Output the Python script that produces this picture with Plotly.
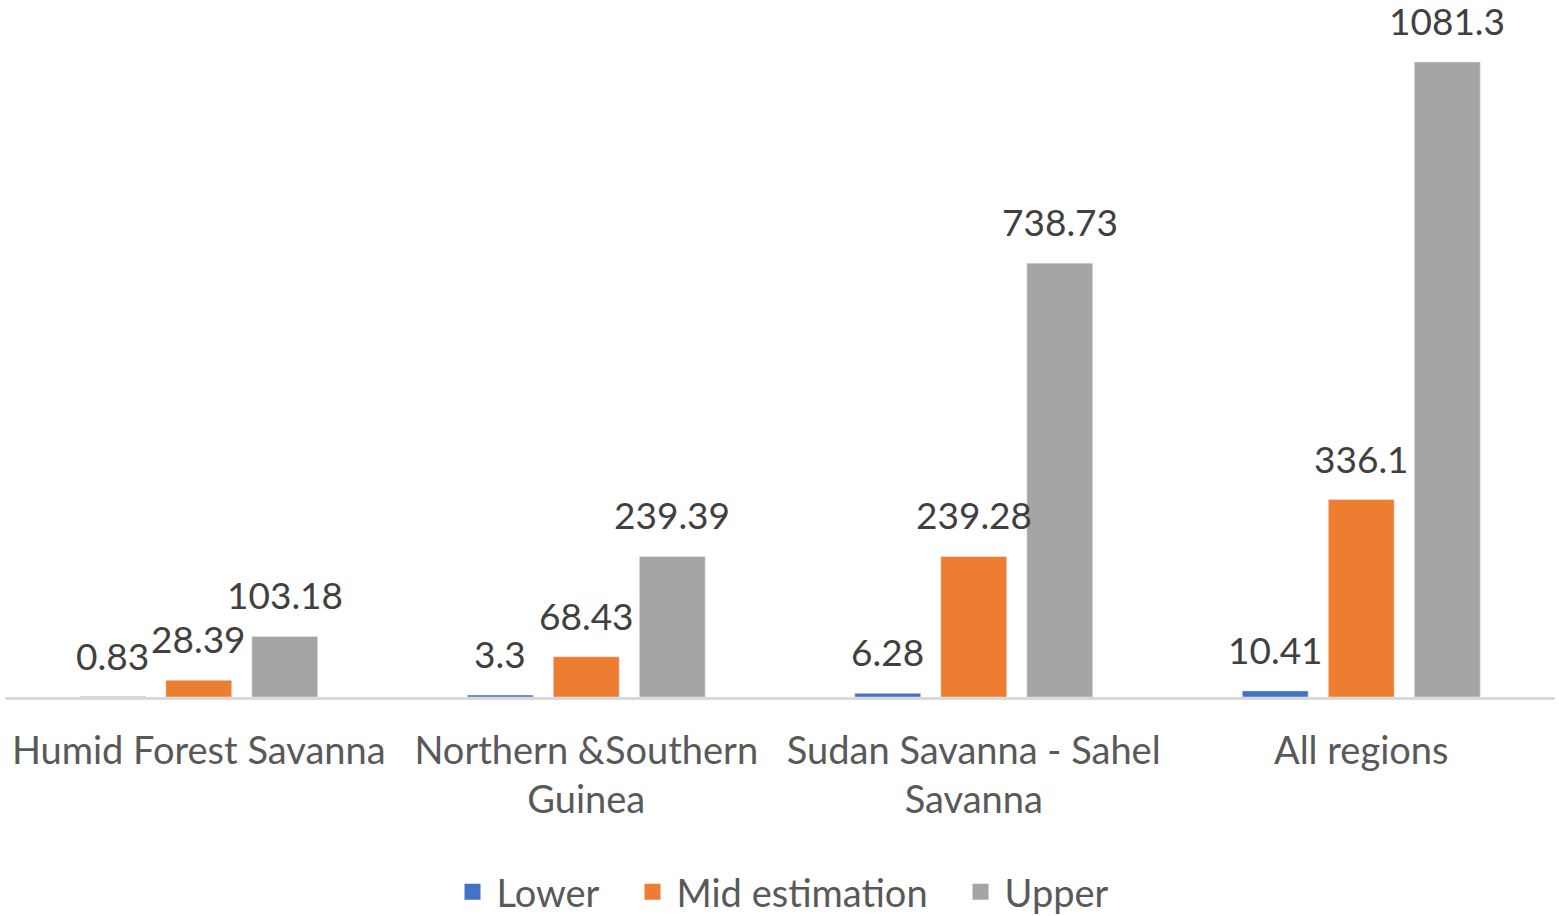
import plotly.graph_objects as go

categories = ["Humid Forest Savanna", "Northern &Southern<br>Guinea",
              "Sudan Savanna - Sahel<br>Savanna", "All regions"]
series_names = ["Lower", "Mid estimation", "Upper"]
lower = [0.83, 3.3, 6.28, 10.41]
mid = [28.39, 68.43, 239.28, 336.1]
upper = [103.18, 239.39, 738.73, 1081.3]

series_values = [lower, mid, upper]
colors = ["#4472C4", "#ED7D31", "#A5A5A5"]
legend_widths = [127, 275, 102]

FONT = "Lato"
x_idx = list(range(len(categories)))
BAR_W = 0.170
STEP = 0.222

fig = go.Figure()
annotations = []
for s, (name, vals, col, lw) in enumerate(zip(series_names, series_values, colors, legend_widths)):
    center = (s - 1) * STEP
    fig.add_trace(go.Bar(
        x=x_idx, y=vals, name=name, marker_color=col,
        width=BAR_W, offset=center - BAR_W / 2, showlegend=False,
        hoverinfo="skip",
    ))
    # legend entry with larger square symbol
    fig.add_trace(go.Scatter(
        x=[None], y=[None], mode="markers", name=name, legendwidth=lw,
        marker=dict(symbol="square", size=16, color=col),
    ))
    for i, v in zip(x_idx, vals):
        annotations.append(dict(
            x=i + center, y=v, xref="x", yref="y", text=f"{v:g}",
            showarrow=False, yanchor="bottom", xanchor="center", yshift=18,
            borderpad=0,
            font=dict(family=FONT, size=37, color="#404040"),
        ))

fig.update_layout(
    width=1559, height=916,
    margin=dict(l=5, r=4, t=0, b=219, autoexpand=False),
    paper_bgcolor="white", plot_bgcolor="white",
    barmode="overlay",
    showlegend=True,
    legend=dict(orientation="h", x=0.5, xanchor="center", y=-0.28, yanchor="middle",
                font=dict(family=FONT, size=38, color="#595959"),
                itemsizing="trace", itemwidth=38),
    annotations=annotations,
    font=dict(family=FONT, size=38, color="#595959"),
)
fig.update_xaxes(
    range=[-0.5, 3.5], tickvals=x_idx, ticktext=categories,
    showline=True, linecolor="#D9D9D9", linewidth=3, showgrid=False,
    zeroline=False, ticks="", ticklabelstandoff=18,
    tickfont=dict(family=FONT, size=38, color="#595959"),
)
fig.update_yaxes(range=[0, 1186.8], showgrid=False, showticklabels=False,
                 zeroline=False, showline=False)

fig.write_html("out.html", config={"displayModeBar": False},
               post_script="document.body.style.margin='0';")
